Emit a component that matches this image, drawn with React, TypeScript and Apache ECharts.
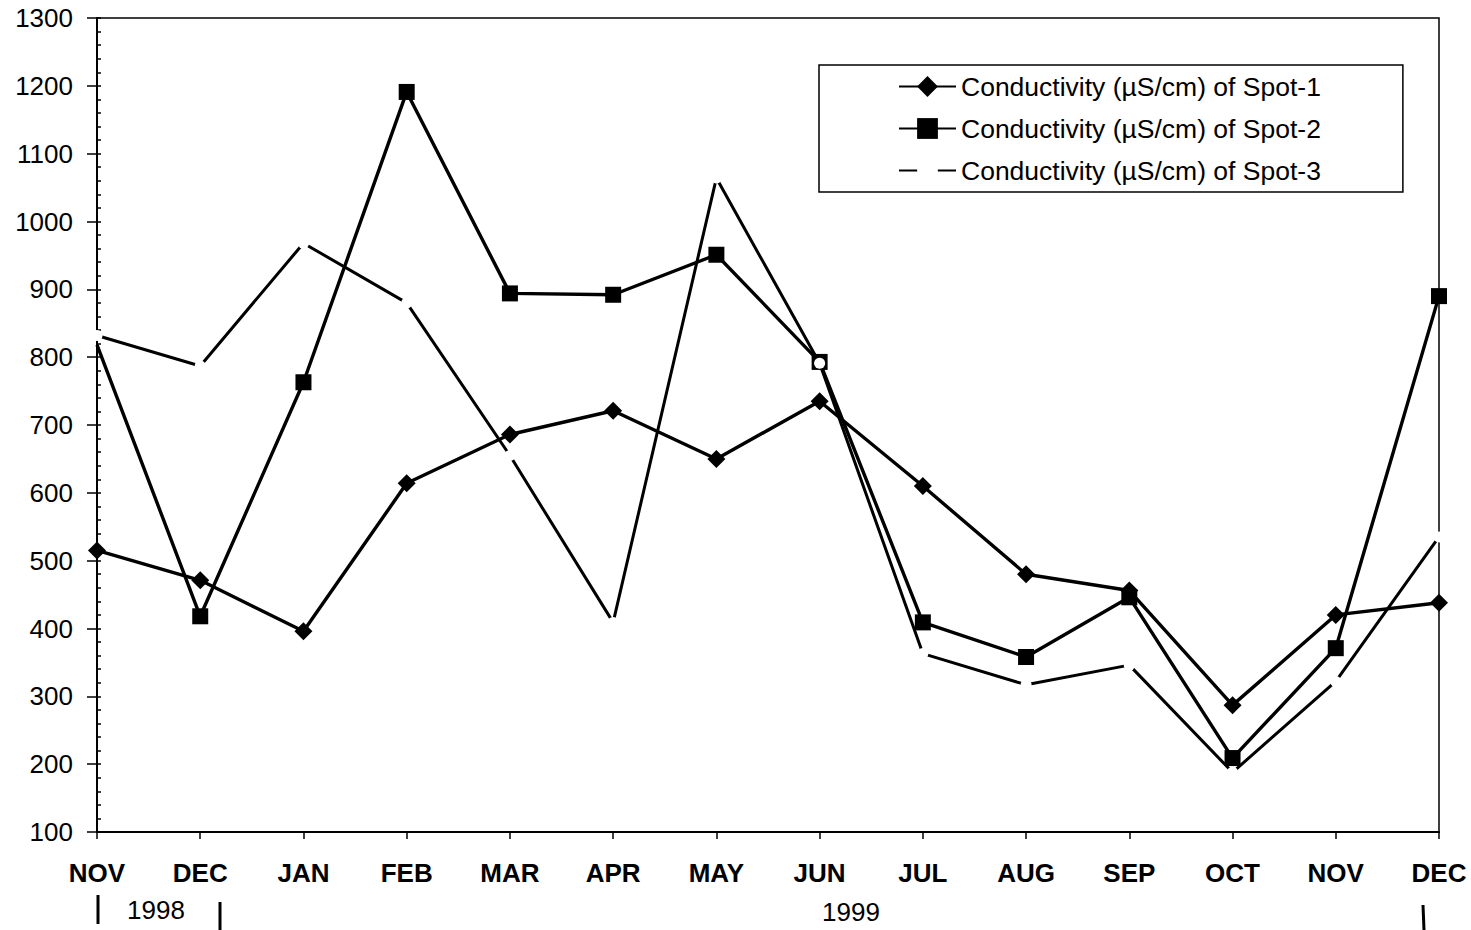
import React, { useEffect, useRef } from "react";
import * as echarts from "echarts";

const months = ["NOV", "DEC", "JAN", "FEB", "MAR", "APR", "MAY", "JUN", "JUL", "AUG", "SEP", "OCT", "NOV", "DEC"];
const spot1 = [515, 471, 396, 614, 686, 721, 650, 735, 610, 480, 456, 287, 420, 438];
const spot2 = [818, 418, 763, 1191, 894, 892, 951, 793, 409, 358, 446, 209, 371, 890];
const spot3 = [832, 787, 968, 880, 655, 409, 1064, 791, 363, 317, 346, 188, 322, 535];
const yTicks = { min: 100, max: 1300, interval: 100 };
const names = [
  "Conductivity (µS/cm) of Spot-1",
  "Conductivity (µS/cm) of Spot-2",
  "Conductivity (µS/cm) of Spot-3",
];
const years = ["1998", "1999"];

const FONT = "'Liberation Sans', Arial, sans-serif";

export default function App() {
  const ref = useRef<HTMLDivElement>(null);
  useEffect(() => {
    if (!ref.current) return;
    const chart = echarts.init(ref.current, undefined, { renderer: "svg" });
    const grid = { left: 97, top: 18, right: 32, bottom: 98 };
    chart.setOption({
      animation: false,
      backgroundColor: "#fff",
      textStyle: { fontFamily: FONT, color: "#000" },
      grid: { ...grid, show: true, borderColor: "#000", borderWidth: 1.5, backgroundColor: "transparent" },
      legend: {
        orient: "vertical",
        left: 819,
        top: 65,
        padding: [8, 82, 8, 79],
        itemWidth: 57,
        itemHeight: 26,
        itemGap: 15,
        borderColor: "#000",
        borderWidth: 1.5,
        backgroundColor: "#fff",
        textStyle: { fontFamily: FONT, fontSize: 26.5, color: "#000" },
        data: names,
      },
      xAxis: {
        type: "category",
        data: months,
        boundaryGap: false,
        axisLine: { lineStyle: { color: "#000", width: 2 } },
        axisTick: { show: true, length: 7, lineStyle: { color: "#000", width: 1.5 } },
        axisLabel: { fontFamily: FONT, fontSize: 26, fontWeight: "bold", color: "#000", margin: 28 },
        splitLine: { show: false },
      },
      yAxis: [
        {
          type: "value",
          min: yTicks.min,
          max: yTicks.max,
          interval: yTicks.interval,
          axisLine: { show: true, lineStyle: { color: "#000", width: 2 } },
          axisTick: { show: true, length: 10, lineStyle: { color: "#000", width: 1.5 } },
          axisLabel: { fontFamily: FONT, fontSize: 26, color: "#000", margin: 24, formatter: (v: number) => String(v) },
          splitLine: { show: false },
        },
        {
          type: "value",
          min: yTicks.min,
          max: yTicks.max,
          interval: yTicks.interval,
          position: "left",
          axisLine: { show: false },
          axisTick: { show: true, inside: true, length: 4, lineStyle: { color: "#000", width: 1.5 } },
          minorTick: { show: true, splitNumber: 5, length: 4, lineStyle: { color: "#000", width: 1.5 } },
          axisLabel: { show: false },
          splitLine: { show: false },
        },
      ],
      series: [
        {
          name: names[0],
          type: "line",
          data: spot1,
          symbol: "diamond",
          symbolSize: 18,
          clip: false,
          z: 3,
          lineStyle: { color: "#000", width: 3.4 },
          itemStyle: { color: "#000" },
        },
        {
          name: names[1],
          type: "line",
          data: spot2.map((v, i) => (i === 0 ? { value: v, symbol: "none" } : v)),
          symbol: "rect",
          symbolSize: 16,
          clip: false,
          z: 3,
          lineStyle: { color: "#000", width: 3.4 },
          itemStyle: { color: "#000" },
        },
        {
          name: names[2],
          type: "line",
          data: spot3,
          symbol: "circle",
          symbolSize: 11,
          clip: false,
          z: 5,
          lineStyle: { color: "#000", width: 3 },
          itemStyle: { color: "#fff", borderWidth: 0 },
        },
      ],
      graphic: [
        { type: "text", left: 127, top: 897, style: { text: years[0], font: `26px ${FONT}`, fill: "#000" } },
        { type: "text", left: 822, top: 899, style: { text: years[1], font: `26px ${FONT}`, fill: "#000" } },
        { type: "line", shape: { x1: 98, y1: 895, x2: 98, y2: 924 }, style: { stroke: "#000", lineWidth: 3 } },
        { type: "line", shape: { x1: 220, y1: 902, x2: 220, y2: 930 }, style: { stroke: "#000", lineWidth: 3 } },
        { type: "line", shape: { x1: 1423, y1: 905, x2: 1424, y2: 930 }, style: { stroke: "#000", lineWidth: 3 } },
      ],
    });
    return () => chart.dispose();
  }, []);
  return <div ref={ref} style={{ position: "absolute", left: 0, top: 0, width: 1471, height: 930 }} />;
}
